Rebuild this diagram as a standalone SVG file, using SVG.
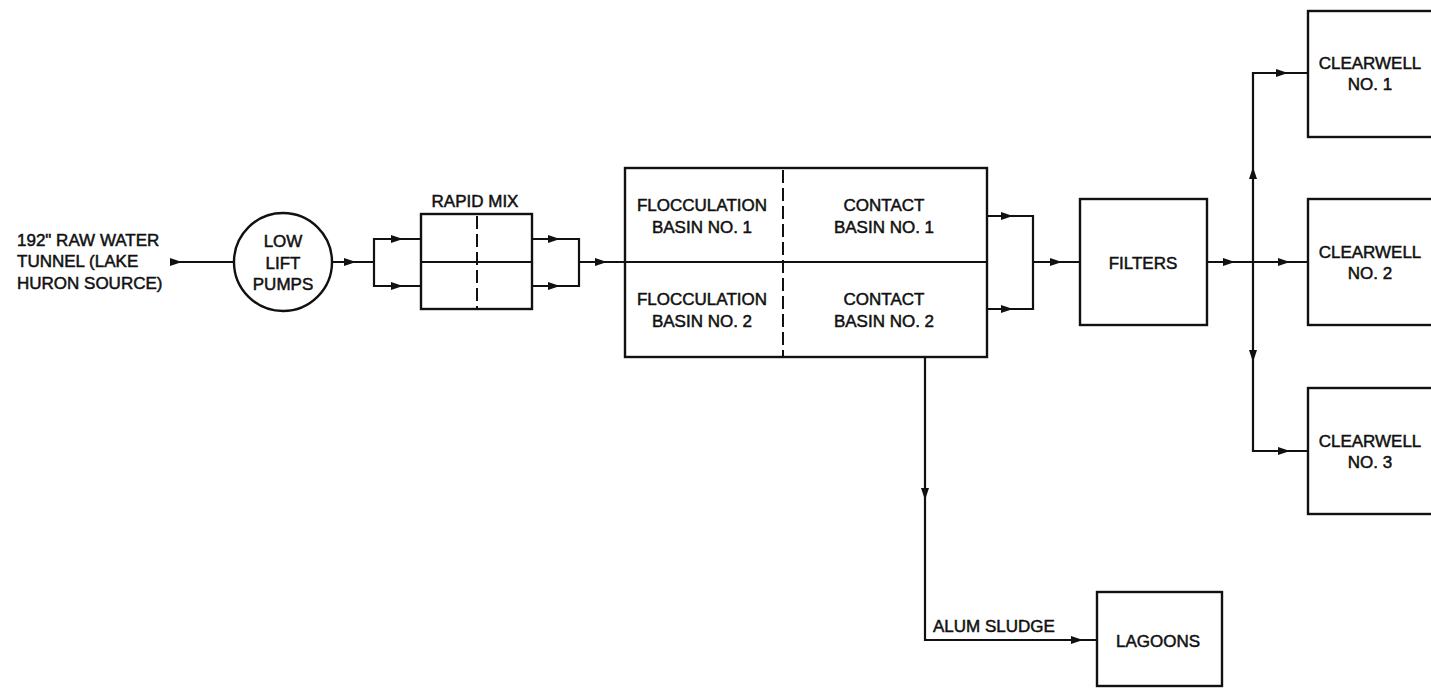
<svg xmlns="http://www.w3.org/2000/svg" width="1431" height="689" viewBox="0 0 1431 689">
  <style>
    .box { fill: none; stroke: #111; stroke-width: 2.4; }
    .ln { fill: none; stroke: #111; stroke-width: 2.2; }
    .dash { fill: none; stroke: #111; stroke-width: 2; stroke-dasharray: 13 5; }
    .t { font-family: "Liberation Sans", Arial, sans-serif; font-size: 17px; fill: #111; stroke: #111; stroke-width: 0.5; }
    .c { text-anchor: middle; }
    .ah { fill: #111; }
  </style>
  <defs>
    <path id="ah" class="ah" d="M0,0 L-12,-4 L-12,4 Z"/>
  </defs>
  <rect width="1431" height="689" fill="#ffffff"/>

  <g id="source">
    <text class="t" x="17" y="246">192" RAW WATER</text>
    <text class="t" x="17" y="267">TUNNEL (LAKE</text>
    <text class="t" x="17" y="289">HURON SOURCE)</text>
  </g>

  <g id="low-lift-pumps">
    <circle class="box" cx="283" cy="262" r="49"/>
    <text class="t c" x="283" y="247">LOW</text>
    <text class="t c" x="283" y="269">LIFT</text>
    <text class="t c" x="283" y="290">PUMPS</text>
  </g>

  <g id="rapid-mix">
    <text class="t c" x="475" y="207">RAPID MIX</text>
    <rect class="box" x="421" y="214" width="111" height="95"/>
    <line class="ln" x1="421" y1="262" x2="532" y2="262"/>
    <line class="dash" x1="477" y1="216" x2="477" y2="309"/>
  </g>

  <g id="basins">
    <rect class="box" x="625" y="168" width="362" height="189"/>
    <line class="ln" x1="625" y1="262" x2="987" y2="262"/>
    <line class="dash" x1="783" y1="170" x2="783" y2="357"/>
    <text class="t c" x="702" y="211">FLOCCULATION</text>
    <text class="t c" x="702" y="233">BASIN NO. 1</text>
    <text class="t c" x="884" y="211">CONTACT</text>
    <text class="t c" x="884" y="233">BASIN NO. 1</text>
    <text class="t c" x="702" y="305">FLOCCULATION</text>
    <text class="t c" x="702" y="327">BASIN NO. 2</text>
    <text class="t c" x="884" y="305">CONTACT</text>
    <text class="t c" x="884" y="327">BASIN NO. 2</text>
  </g>

  <g id="filters">
    <rect class="box" x="1080" y="199" width="127" height="126"/>
    <text class="t c" x="1143" y="269">FILTERS</text>
  </g>

  <g id="clearwell-1">
    <rect class="box" x="1308" y="11" width="130" height="126"/>
    <text class="t c" x="1370" y="69">CLEARWELL</text>
    <text class="t c" x="1370" y="90">NO. 1</text>
  </g>
  <g id="clearwell-2">
    <rect class="box" x="1308" y="199" width="130" height="126"/>
    <text class="t c" x="1370" y="258">CLEARWELL</text>
    <text class="t c" x="1370" y="279">NO. 2</text>
  </g>
  <g id="clearwell-3">
    <rect class="box" x="1308" y="388" width="130" height="126"/>
    <text class="t c" x="1370" y="447">CLEARWELL</text>
    <text class="t c" x="1370" y="468">NO. 3</text>
  </g>

  <g id="lagoons">
    <rect class="box" x="1097" y="592" width="125" height="94"/>
    <text class="t c" x="1158" y="647">LAGOONS</text>
  </g>

  <g id="connectors">
    <line class="ln" x1="170" y1="262" x2="234" y2="262"/>
    <use href="#ah" transform="translate(182,262)"/>

    <line class="ln" x1="332" y1="262" x2="374" y2="262"/>
    <use href="#ah" transform="translate(356,262)"/>
    <polyline class="ln" points="421,239 374,239 374,286 421,286"/>
    <use href="#ah" transform="translate(403,239)"/>
    <use href="#ah" transform="translate(403,286)"/>

    <polyline class="ln" points="532,239 579,239 579,286 532,286"/>
    <use href="#ah" transform="translate(560,239)"/>
    <use href="#ah" transform="translate(560,286)"/>
    <line class="ln" x1="579" y1="262" x2="625" y2="262"/>
    <use href="#ah" transform="translate(607,262)"/>

    <polyline class="ln" points="987,216 1033,216 1033,309 987,309"/>
    <use href="#ah" transform="translate(1013,216)"/>
    <use href="#ah" transform="translate(1013,309)"/>
    <line class="ln" x1="1033" y1="262" x2="1080" y2="262"/>
    <use href="#ah" transform="translate(1062,262)"/>

    <line class="ln" x1="1207" y1="262" x2="1308" y2="262"/>
    <use href="#ah" transform="translate(1235,262)"/>
    <use href="#ah" transform="translate(1290,262)"/>
    <polyline class="ln" points="1308,73 1253,73 1253,451 1308,451"/>
    <use href="#ah" transform="translate(1253,167) rotate(-90)"/>
    <use href="#ah" transform="translate(1253,362) rotate(90)"/>
    <use href="#ah" transform="translate(1288,73)"/>
    <use href="#ah" transform="translate(1290,451)"/>

    <polyline class="ln" points="925,357 925,640 1097,640"/>
    <use href="#ah" transform="translate(925,500) rotate(90)"/>
    <use href="#ah" transform="translate(1083,640)"/>
    <text class="t" x="933" y="632">ALUM SLUDGE</text>
  </g>
</svg>
